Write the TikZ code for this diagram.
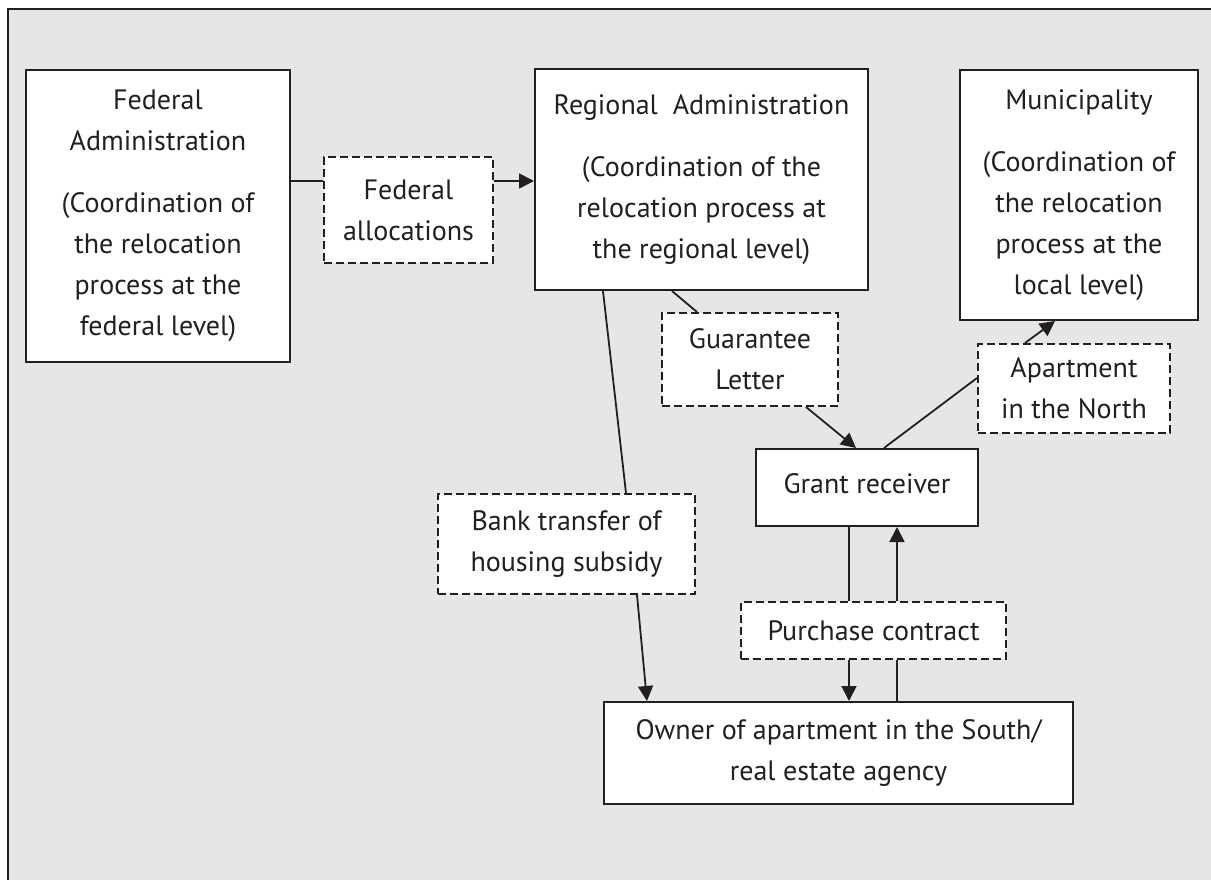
\documentclass[tikz,border=0pt]{standalone}
\usepackage{fontspec}
\setmainfont{PT Sans}
\usetikzlibrary{arrows.meta}
\definecolor{ink}{RGB}{35,31,32}
\definecolor{bg}{RGB}{229,230,232}
\tikzset{
  box/.style={draw=ink, line width=2pt, fill=white, anchor=north west, align=center, inner sep=0pt, text=ink, font=\fontsize{28}{41}\selectfont},
  dbox/.style={box, dash pattern=on 8pt off 4pt},
  conn/.style={draw=ink, line width=1.8pt},
  arr/.style={conn, -{Triangle[length=15pt,width=15pt]}}
}
\begin{document}
\begin{tikzpicture}[x=1pt,y=-1pt]
\useasboundingbox (0,0) rectangle (1211,880);
\fill[bg] (8,9) rectangle (1220,890);
\draw[ink, line width=2pt] (8,890) -- (8,9) -- (1220,9);

\node[box, minimum width=264, minimum height=292] (fa) at (25,69)
  {Federal\\Administration\\[21pt](Coordination of\\the relocation\\process at the\\federal level)};
\node[dbox, minimum width=169, minimum height=106] (fal) at (323,156)
  {Federal\\allocations};
\node[box, minimum width=333, minimum height=221] (ra) at (534,68)
  {Regional\ \ Administration\\[21pt](Coordination of the\\relocation process at\\the regional level)};
\node[box, minimum width=238, minimum height=250] (mu) at (959,69)
  {Municipality\\[21pt](Coordination of\\the relocation\\process at the\\local level)};
\node[dbox, minimum width=176, minimum height=93] (gl) at (661,312)
  {Guarantee\\Letter};
\node[dbox, minimum width=192, minimum height=89] (an) at (977,343)
  {Apartment\\in the North};
\node[box, minimum width=222, minimum height=77] (gr) at (755,448)
  {\raisebox{8pt}{Grant receiver}};
\node[dbox, minimum width=257, minimum height=100] (bt) at (437,493)
  {Bank transfer of\\housing subsidy};
\node[dbox, minimum width=265, minimum height=57] (pc) at (740,601)
  {Purchase contract};
\node[box, minimum width=469, minimum height=102] (ow) at (603,701)
  {Owner of apartment in the South/\\real estate agency};

\draw[conn] ([yshift=-112]fa.north east) -- ([yshift=-25]fal.north west);
\draw[arr] ([yshift=-25]fal.north east) -- ([yshift=-113]ra.north west);
\draw[conn] ([xshift=69]ra.south west) -- ([xshift=189]bt.north west);
\draw[arr] ([xshift=200]bt.south west) -- ([xshift=44]ow.north west);
\draw[conn] ([xshift=138]ra.south west) -- ([xshift=36]gl.north west);
\draw[arr] ([xshift=145]gl.south west) -- ([xshift=101]gr.north west);
\draw[conn] ([xshift=129]gr.north west) -- ([yshift=-35]an.north west);
\draw[arr] ([xshift=48]an.north west) -- ([xshift=96]mu.south west);
\draw[conn] ([xshift=94]gr.south west) -- ([xshift=109]pc.north west);
\draw[arr] ([xshift=157]pc.north west) -- ([xshift=142]gr.south west);
\draw[arr] ([xshift=109]pc.south west) -- ([xshift=246]ow.north west);
\draw[conn] ([xshift=294]ow.north west) -- ([xshift=157]pc.south west);
\end{tikzpicture}
\end{document}
